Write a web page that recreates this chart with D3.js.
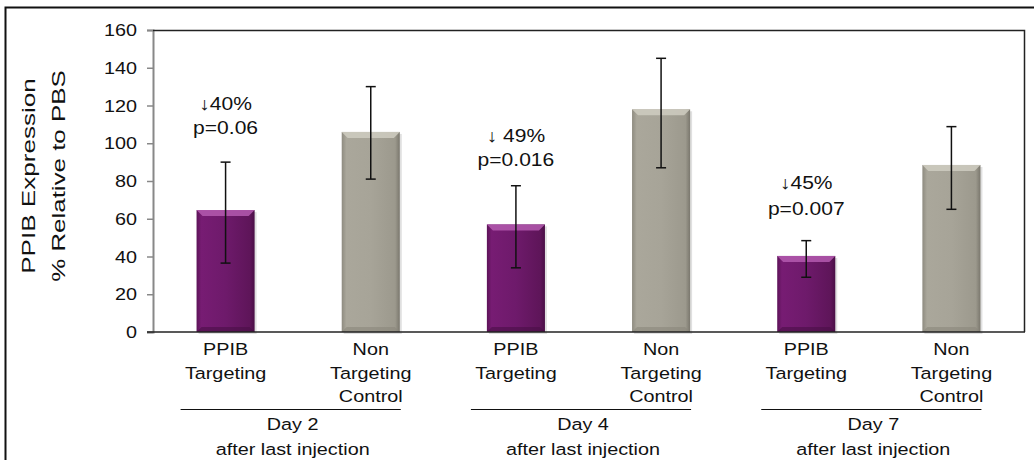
<!DOCTYPE html>
<html>
<head>
<meta charset="utf-8">
<script src="https://d3js.org/d3.v7.min.js"></script>
<style>
  body { margin: 0; background: #fff; }
  text { font-family: Arial, "Liberation Sans", sans-serif; fill: #111; }
</style>
</head>
<body>
<svg id="chart"></svg>
<script>
// data
var categories = ['PPIB Targeting', 'Non Targeting Control', 'PPIB Targeting', 'Non Targeting Control', 'PPIB Targeting', 'Non Targeting Control'];
var catLines = [['PPIB', 'Targeting'], ['Non', 'Targeting', 'Control'], ['PPIB', 'Targeting'], ['Non', 'Targeting', 'Control'], ['PPIB', 'Targeting'], ['Non', 'Targeting', 'Control']];
var kinds = ['target', 'control', 'target', 'control', 'target', 'control'];
var values = [64.6, 106, 57, 118, 40.3, 88.5];
var errHigh = [90, 130, 77.5, 145, 48.4, 108.8];
var errLow = [36.5, 81, 34, 87, 29, 65];
var groups = ['Day 2', 'Day 4', 'Day 7'];
var groupSub = 'after last injection';
var notes = [['\u219340%', 'p=0.06'], null, ['\u2193 49%', 'p=0.016'], null, ['\u219345%', 'p=0.007'], null];
var noteY = [[110, 134], null, [142, 166], null, [189, 215], null];
var yTicks = [0, 20, 40, 60, 80, 100, 120, 140, 160];

var W = 1034, H = 460;
var m = {left: 153, right: 10, top: 30, bottom: 128};
var SX = 1.2; // the original text is a little stretched sideways
var svg = d3.select('#chart').attr('width', W).attr('height', H);

function label(x0, y0, s, size, sx, anchor) {
  return svg.append('text')
    .attr('transform', 'translate(' + x0 + ',' + y0 + ') scale(' + sx + ',1)')
    .attr('text-anchor', anchor || 'middle')
    .style('font-size', size + 'px')
    .text(s);
}

// outer frame (runs off the right and bottom edge)
svg.append('rect').attr('x', 5.5).attr('y', 7.5).attr('width', 1100).attr('height', 600)
  .attr('fill', 'none').attr('stroke', '#111').attr('stroke-width', 2);

var x = d3.scaleBand().domain(d3.range(categories.length)).range([m.left, W - m.right]).paddingInner(0.6).paddingOuter(0.3);
var y = d3.scaleLinear().domain([0, 160]).range([H - m.bottom, m.top]);

var defs = svg.append('defs');
function grad(id, stops) {
  var g = defs.append('linearGradient').attr('id', id).attr('x1', 0).attr('x2', 1).attr('y1', 0).attr('y2', 0);
  stops.forEach(function(s) { g.append('stop').attr('offset', s[0]).attr('stop-color', s[1]); });
}
grad('g-target', [[0, '#5c1358'], [0.08, '#771c73'], [0.5, '#6e1a6b'], [0.92, '#5e1559'], [1, '#4a0f46']]);
grad('g-control', [[0, '#8e8b80'], [0.08, '#aaa79b'], [0.5, '#a7a498'], [0.92, '#9c998d'], [1, '#7a776d']]);
var topCol = {target: '#b45aaf', control: '#cfccc1'};
var botCol = {target: '#4a0f46', control: '#8a877c'};

var plot = svg.append('g');

// y axis
var yAxis = d3.axisLeft(y).tickValues(yTicks).tickSize(6).tickFormat('');
var ya = svg.append('g').attr('transform', 'translate(' + m.left + ',0)').call(yAxis);
ya.select('.domain').attr('stroke', '#888').attr('stroke-width', 2);
ya.selectAll('.tick line').attr('stroke', '#888').attr('stroke-width', 1.5);
yTicks.forEach(function(t) { label(m.left - 16, y(t) + 6, String(t), 16.5, SX, 'end'); });

// plot border top/right
svg.append('path').attr('d', 'M' + m.left + ',' + (m.top + 0.5) + 'H' + (W - m.right + 0.5) + 'V' + y(0))
  .attr('fill', 'none').attr('stroke', '#222').attr('stroke-width', 1.5);

// bars
var bars = plot.selectAll('g.bar').data(values).enter().append('g').attr('class', 'bar');
bars.append('rect')
  .attr('x', function(d, i) { return x(i) + 2; })
  .attr('y', function(d) { return y(d) + 2; })
  .attr('width', x.bandwidth())
  .attr('height', function(d) { return y(0) - y(d); })
  .attr('fill', '#000').attr('opacity', 0.12);
bars.append('rect')
  .attr('x', function(d, i) { return x(i); })
  .attr('y', function(d) { return y(d); })
  .attr('width', x.bandwidth())
  .attr('height', function(d) { return y(0) - y(d); })
  .attr('fill', function(d, i) { return 'url(#g-' + kinds[i] + ')'; });
// bevel on top
bars.append('path')
  .attr('d', function(d, i) {
    var x0 = x(i), x1 = x(i) + x.bandwidth(), t = y(d), b = 6;
    return 'M' + x0 + ',' + t + 'H' + x1 + 'L' + (x1 - b) + ',' + (t + b) + 'H' + (x0 + b) + 'Z';
  })
  .attr('fill', function(d, i) { return topCol[kinds[i]]; }).attr('opacity', 0.85);
bars.append('path')
  .attr('d', function(d, i) {
    var x0 = x(i), x1 = x(i) + x.bandwidth(), b0 = y(0), b = 5;
    return 'M' + x0 + ',' + b0 + 'H' + x1 + 'L' + (x1 - b) + ',' + (b0 - b) + 'H' + (x0 + b) + 'Z';
  })
  .attr('fill', function(d, i) { return botCol[kinds[i]]; }).attr('opacity', 0.6);

// error bars
var eb = plot.selectAll('g.err').data(values).enter().append('g').attr('class', 'err').attr('stroke', '#111').attr('stroke-width', 1.5);
eb.append('line')
  .attr('x1', function(d, i) { return x(i) + x.bandwidth() / 2; })
  .attr('x2', function(d, i) { return x(i) + x.bandwidth() / 2; })
  .attr('y1', function(d, i) { return y(errHigh[i]); })
  .attr('y2', function(d, i) { return y(errLow[i]); });
[errHigh, errLow].forEach(function(arr) {
  eb.append('line')
    .attr('x1', function(d, i) { return x(i) + x.bandwidth() / 2 - 5; })
    .attr('x2', function(d, i) { return x(i) + x.bandwidth() / 2 + 5; })
    .attr('y1', function(d, i) { return y(arr[i]); })
    .attr('y2', function(d, i) { return y(arr[i]); });
});

// x axis line
svg.append('line').attr('x1', m.left - 6).attr('x2', W - m.right + 1).attr('y1', y(0)).attr('y2', y(0))
  .attr('stroke', '#222').attr('stroke-width', 1.5);

// annotations
notes.forEach(function(n, i) {
  if (!n) return;
  n.forEach(function(s, k) { label(x(i) + x.bandwidth() / 2, noteY[i][k], s, 18, 1.17); });
});

// category labels
catLines.forEach(function(lines, i) {
  lines.forEach(function(s, k) { label(x(i) + x.bandwidth() / 2, 355 + k * 23.5, s, 16.5, SX); });
});

// group labels
groups.forEach(function(g, j) {
  var c1 = x(2 * j) + x.bandwidth() / 2, c2 = x(2 * j + 1) + x.bandwidth() / 2;
  var l0 = c1 - 45, l1 = c2 + 30, mid = (l0 + l1) / 2 + 2;
  svg.append('line').attr('x1', l0).attr('x2', l1).attr('y1', 409.5).attr('y2', 409.5).attr('stroke', '#111').attr('stroke-width', 1.2);
  label(mid, 430, g, 16.5, SX);
  label(mid, 455, groupSub, 16.5, SX);
});

// y axis title
var cy = (y(0) + y(160)) / 2 - 5;
svg.append('text').attr('transform', 'translate(35,' + cy + ') rotate(-90) scale(1.45,1)')
  .attr('text-anchor', 'middle').style('font-size', '18px').text('PPIB Expression');
svg.append('text').attr('transform', 'translate(65,' + cy + ') rotate(-90) scale(1.44,1)')
  .attr('text-anchor', 'middle').style('font-size', '18px').text('% Relative to PBS');
</script>
</body>
</html>
